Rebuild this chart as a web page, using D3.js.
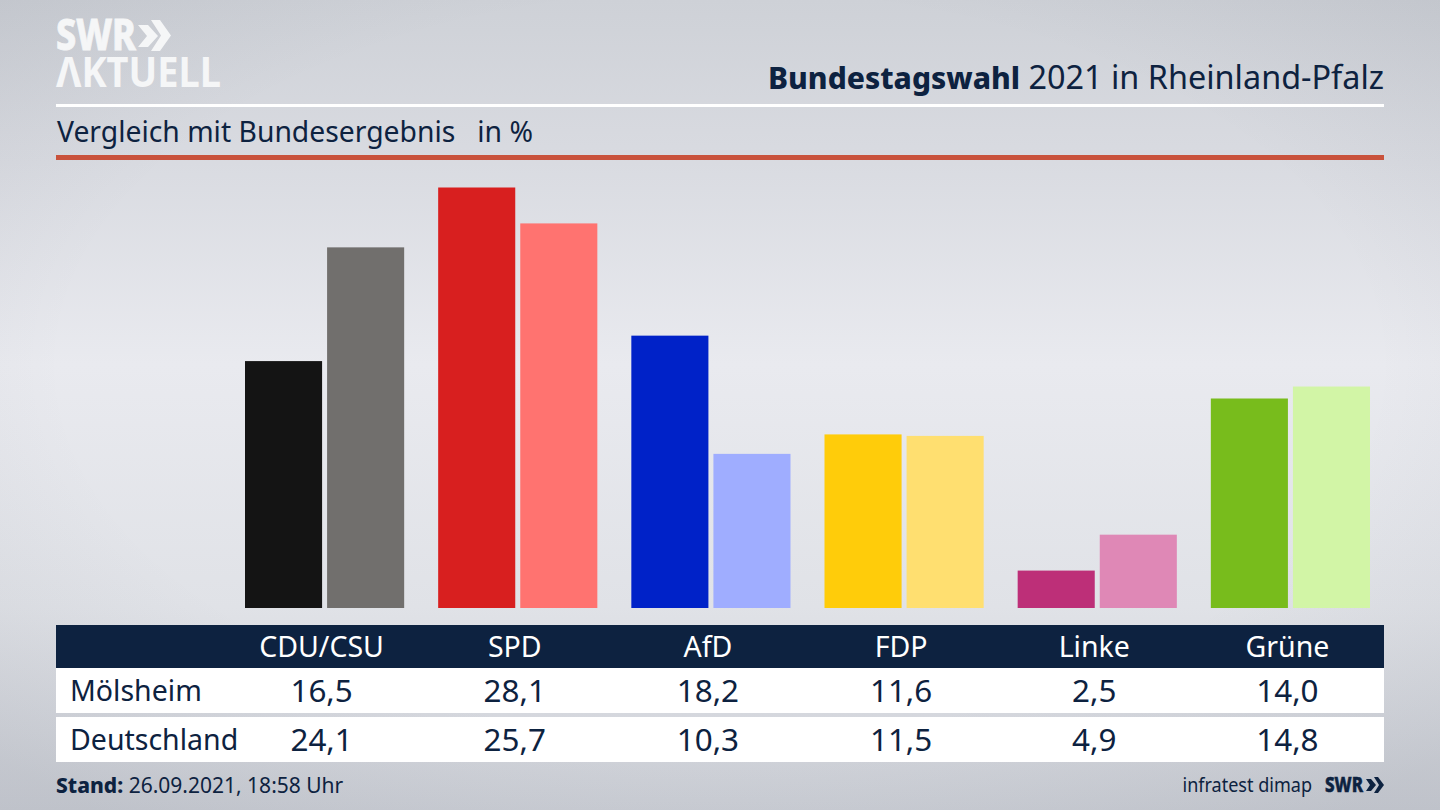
<!DOCTYPE html>
<html>
<head>
<meta charset="utf-8">
<script src="https://cdn.jsdelivr.net/npm/d3@7"></script>
<style>
  html, body { margin: 0; padding: 0; background: #d8dae0; }
  svg { display: block; font-family: "Noto Sans", sans-serif; }
</style>
</head>
<body>
<div id="chart"></div>
<script>
const parties = ['CDU/CSU', 'SPD', 'AfD', 'FDP', 'Linke', 'Grüne'];
const regions = ['Mölsheim', 'Deutschland'];
const moelsheim = [16.5, 28.1, 18.2, 11.6, 2.5, 14.0];
const deutschland = [24.1, 25.7, 10.3, 11.5, 4.9, 14.8];
const coloursMoelsheim = ['#141414', '#d81f1f', '#0022c8', '#ffcc0a', '#bd2f78', '#78bc1c'];
const coloursDeutschland = ['#716f6d', '#ff7370', '#9fadff', '#ffdf70', '#df88b6', '#d2f5a6'];

const width = 1440, height = 810;
const navy = '#0d2240';
const fmt = v => v.toFixed(1).replace('.', ',');

const svg = d3.select('#chart').append('svg')
  .attr('width', width)
  .attr('height', height);

const defs = svg.append('defs');
const bg = defs.append('linearGradient')
  .attr('id', 'bg').attr('x1', 0).attr('y1', 0).attr('x2', 0).attr('y2', 1);
[['0%', '#ced1d7'], ['20%', '#d9dbe1'], ['45%', '#e9eaef'], ['75%', '#e0e2e7'], ['100%', '#cbced5']]
  .forEach(s => bg.append('stop').attr('offset', s[0]).attr('stop-color', s[1]));

// edges of the backdrop fall off a little towards the lower corners
const vignette = defs.append('radialGradient')
  .attr('id', 'vignette').attr('cx', '50%').attr('cy', '45%').attr('r', '70%');
[['65%', 0], ['100%', 0.07]]
  .forEach(s => vignette.append('stop').attr('offset', s[0]).attr('stop-color', '#20283a').attr('stop-opacity', s[1]));

svg.append('rect').attr('width', width).attr('height', height).attr('fill', 'url(#bg)');
svg.append('rect').attr('width', width).attr('height', height).attr('fill', 'url(#vignette)');

// logo
const logo = svg.append('g').attr('fill', '#f5f6f7').style('font-weight', 800);
logo.append('text').attr('x', 56).attr('y', 50).attr('font-size', 42)
  .attr('stroke', '#f5f6f7').attr('stroke-width', 0.8)
  .attr('textLength', 80).attr('lengthAdjust', 'spacingAndGlyphs').text('SWR');
logo.append('path').attr('d', 'M138 25h10l10 11-10 11h-10l9-11z M151 20h9l11 15.5-11 15.5h-9l10-15.5z');
logo.append('text').attr('x', 56).attr('y', 87).attr('font-size', 42).style('font-weight', 700)
  .attr('textLength', 165).attr('lengthAdjust', 'spacingAndGlyphs').text('ΛKTUELL');

// header
const title = svg.append('text').attr('x', 1384).attr('y', 89)
  .attr('text-anchor', 'end').attr('fill', navy).attr('font-size', 32.4);
title.append('tspan').attr('font-weight', 800).attr('font-size', 30).text('Bundestagswahl');
title.append('tspan').text(' 2021 in Rheinland-Pfalz');

svg.append('rect').attr('x', 56).attr('y', 104).attr('width', 1328).attr('height', 3).attr('fill', '#fff');

svg.append('text').attr('x', 57).attr('y', 142).attr('fill', navy).attr('font-size', 28.3)
  .style('white-space', 'pre')
  .text('Vergleich mit Bundesergebnis   in %');

svg.append('rect').attr('x', 56).attr('y', 155).attr('width', 1328).attr('height', 5).attr('fill', '#c9523c');

// bars
const x = d3.scaleBand().domain(parties).range([245, 1370]).paddingInner(0.176);
const xInner = d3.scaleBand().domain(regions).range([0, x.bandwidth()]).paddingInner(0.061);
const y = d3.scaleLinear().domain([0, 28.1]).range([608, 187.5]);

const series = [
  { name: regions[0], values: moelsheim, colours: coloursMoelsheim },
  { name: regions[1], values: deutschland, colours: coloursDeutschland },
];

series.forEach(s => {
  svg.append('g').selectAll('rect')
    .data(s.values)
    .enter()
    .append('rect')
    .attr('x', (d, i) => x(parties[i]) + xInner(s.name))
    .attr('width', xInner.bandwidth())
    .attr('y', d => y(d))
    .attr('height', d => y(0) - y(d))
    .attr('fill', (d, i) => s.colours[i]);
});

// table
const centre = p => x(p) + x.bandwidth() / 2;

svg.append('rect').attr('x', 56).attr('y', 625).attr('width', 1328).attr('height', 43).attr('fill', navy);
svg.append('g').selectAll('text')
  .data(parties)
  .enter()
  .append('text')
  .attr('x', d => centre(d) - 3)
  .attr('y', 657)
  .attr('text-anchor', 'middle')
  .attr('fill', '#fff')
  .attr('font-size', 28.5)
  .text(d => d);

const rowTop = [668, 717];
series.forEach((s, r) => {
  svg.append('rect').attr('x', 56).attr('y', rowTop[r]).attr('width', 1328).attr('height', 45).attr('fill', '#fff');
  svg.append('text').attr('x', 70).attr('y', rowTop[r] + 33).attr('fill', navy).attr('font-size', 28.5).text(s.name);
  svg.append('g').selectAll('text')
    .data(s.values)
    .enter()
    .append('text')
    .attr('x', (d, i) => centre(parties[i]) - 3)
    .attr('y', rowTop[r] + 34)
    .attr('text-anchor', 'middle')
    .attr('fill', navy)
    .attr('font-size', 31.4)
    .text(fmt);
});

// footer
const stand = svg.append('text').attr('x', 56).attr('y', 793).attr('fill', navy).attr('font-size', 21);
stand.append('tspan').attr('font-weight', 800).text('Stand:');
stand.append('tspan').text(' 26.09.2021, 18:58 Uhr');

svg.append('text')
  .attr('transform', 'translate(1312,792) scale(0.88,1)')
  .attr('text-anchor', 'end')
  .attr('fill', navy).attr('font-size', 20.5)
  .text('infratest dimap');
svg.append('text').attr('x', 1325).attr('y', 792).attr('fill', navy).attr('font-size', 21).attr('font-weight', 800)
  .attr('stroke', navy).attr('stroke-width', 0.5)
  .attr('textLength', 38).attr('lengthAdjust', 'spacingAndGlyphs').text('SWR');
svg.append('path').attr('fill', navy)
  .attr('d', 'M1366 779h5l5 6-5 6h-5l4-6z M1374 777h4l6 8-6 8h-4l5-8z');
</script>
</body>
</html>
